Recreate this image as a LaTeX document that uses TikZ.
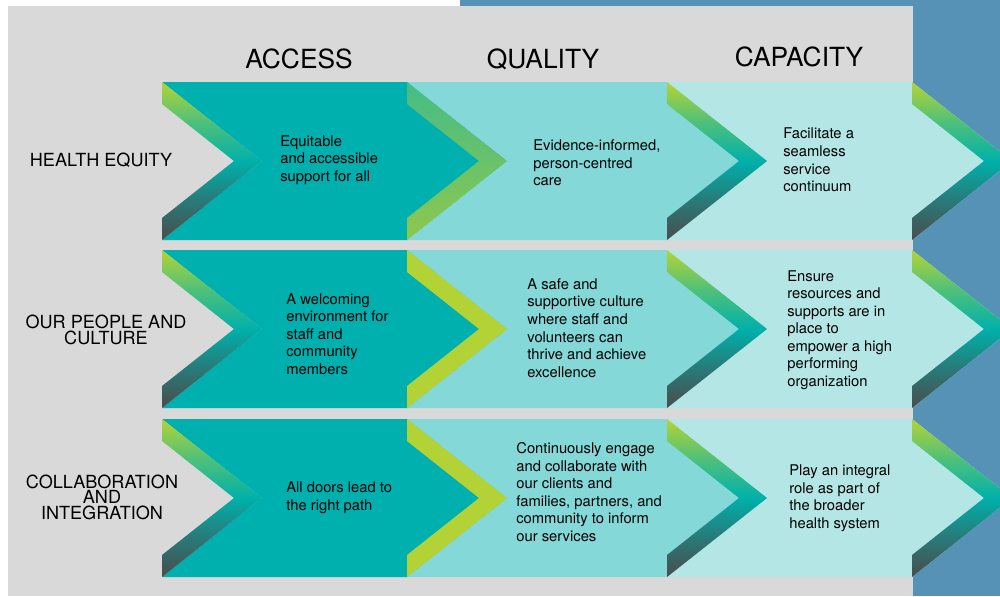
\documentclass[tikz,border=0pt]{standalone}
\usepackage{fontspec}
\setmainfont{TeX Gyre Heros}
\usetikzlibrary{calc}

\definecolor{panelgray}{HTML}{D9D9D9}
\definecolor{sideblue}{HTML}{5592B6}
\definecolor{accessteal}{HTML}{00B0AF}
\definecolor{qualityteal}{HTML}{84D8D7}
\definecolor{capacityteal}{HTML}{B5E6E6}
\definecolor{limeband}{HTML}{B2D235}
\definecolor{bandY}{HTML}{B5D334}
\definecolor{bandG}{HTML}{4CC07C}
\definecolor{bandT}{HTML}{00B0AA}
\definecolor{bandS}{HTML}{2A7877}
\definecolor{bandD}{HTML}{4A4C4C}
\definecolor{greenT}{HTML}{45BC86}
\definecolor{greenB}{HTML}{8EC84E}

\pgfdeclareverticalshading{bandshade}{100bp}{color(0bp)=(bandD); color(25bp)=(bandD); color(37bp)=(bandS); color(50bp)=(bandT); color(62bp)=(bandG); color(75bp)=(bandY); color(100bp)=(bandY)}

\def\colarrow[#1](#2:#3:#4){\fill[#1] (#2,#4) -- (#3,#4) -- ({#3+100},{#4+79}) -- (#3,{#4+158}) -- (#2,{#4+158}) -- ({#2+100},{#4+79}) -- cycle;}
\def\chevband[#1](#2:#3){\path[#1] (#2,#3) -- ({#2+100},{#3+79}) -- (#2,{#3+158}) -- (#2,{#3+136}) -- ({#2+72},{#3+79}) -- (#2,{#3+22}) -- cycle;}

\tikzset{
	heading/.style={inner sep=0pt, font=\fontsize{15}{18}\selectfont},
	rowlabel/.style={inner sep=0pt, align=center, font=\fontsize{10.3}{8.8}\selectfont},
	cell/.style={inner sep=0pt, anchor=west, align=left, font=\fontsize{8.4}{10}\selectfont},
	grad/.style={shade, shading=bandshade}
}

\begin{document}
\begin{tikzpicture}[x=0.02cm, y=-0.02cm]
			%%%%% START %%%%%
			\useasboundingbox (0,0) rectangle (1000,596);
			
			\fill[sideblue] (460,0) rectangle (1000,596);
			\fill[panelgray] (8,6) rectangle (913,596);
			
			% row 1
			\colarrow[accessteal](162:407:82);
			\colarrow[qualityteal](407:667:82);
			\colarrow[capacityteal](667:912:82);
			\chevband[grad](162:82);
			\chevband[top color=greenT, bottom color=greenB](407:82);
			\chevband[grad](667:82);
			\chevband[grad](912:82);
			
			% row 2
			\colarrow[accessteal](162:407:250);
			\colarrow[qualityteal](407:667:250);
			\colarrow[capacityteal](667:912:250);
			\chevband[grad](162:250);
			\chevband[fill=limeband](407:250);
			\chevband[grad](667:250);
			\chevband[grad](912:250);
			
			% row 3
			\colarrow[accessteal](162:407:419);
			\colarrow[qualityteal](407:667:419);
			\colarrow[capacityteal](667:912:419);
			\chevband[grad](162:419);
			\chevband[fill=limeband](407:419);
			\chevband[grad](667:419);
			\chevband[grad](912:419);
			
			\node[heading] (access) at (299,59) {ACCESS};
			\node[heading] (quality) at (543,59) {QUALITY};
			\node[heading] (capacity) at (799,57) {CAPACITY};
			
			\node[rowlabel] (equity) at (101,160) {HEALTH EQUITY};
			\node[rowlabel] (people) at (106,330) {OUR PEOPLE AND\\CULTURE};
			\node[rowlabel] (collab) at (102,497) {COLLABORATION\\AND\\INTEGRATION};
			
			\node[cell] (equityA) at (280,160) {Equitable\\and accessible\\support for all};
			\node[cell] (equityQ) at (533,163) {Evidence-informed,\\person-centred\\care};
			\node[cell] (equityC) at (783,160) {Facilitate a\\seamless\\service\\continuum};
			
			\node[cell] (peopleA) at (286,334) {A welcoming\\environment for\\staff and\\community\\members};
			\node[cell] (peopleQ) at (527,328) {A safe and\\supportive culture\\where staff and\\volunteers can\\thrive and achieve\\excellence};
			\node[cell] (peopleC) at (787,330) {Ensure\\resources and\\supports are in\\place to\\empower a high\\performing\\organization};
			
			\node[cell] (collabA) at (286,498) {All doors lead to\\the right path};
			\node[cell] (collabQ) at (516,492) {Continuously engage\\and collaborate with\\our clients and\\families, partners, and\\community to inform\\our services};
			\node[cell] (collabC) at (789,498) {Play an integral\\role as part of\\the broader\\health system};
			
			%%%%% END %%%%%
\end{tikzpicture}
\end{document}
